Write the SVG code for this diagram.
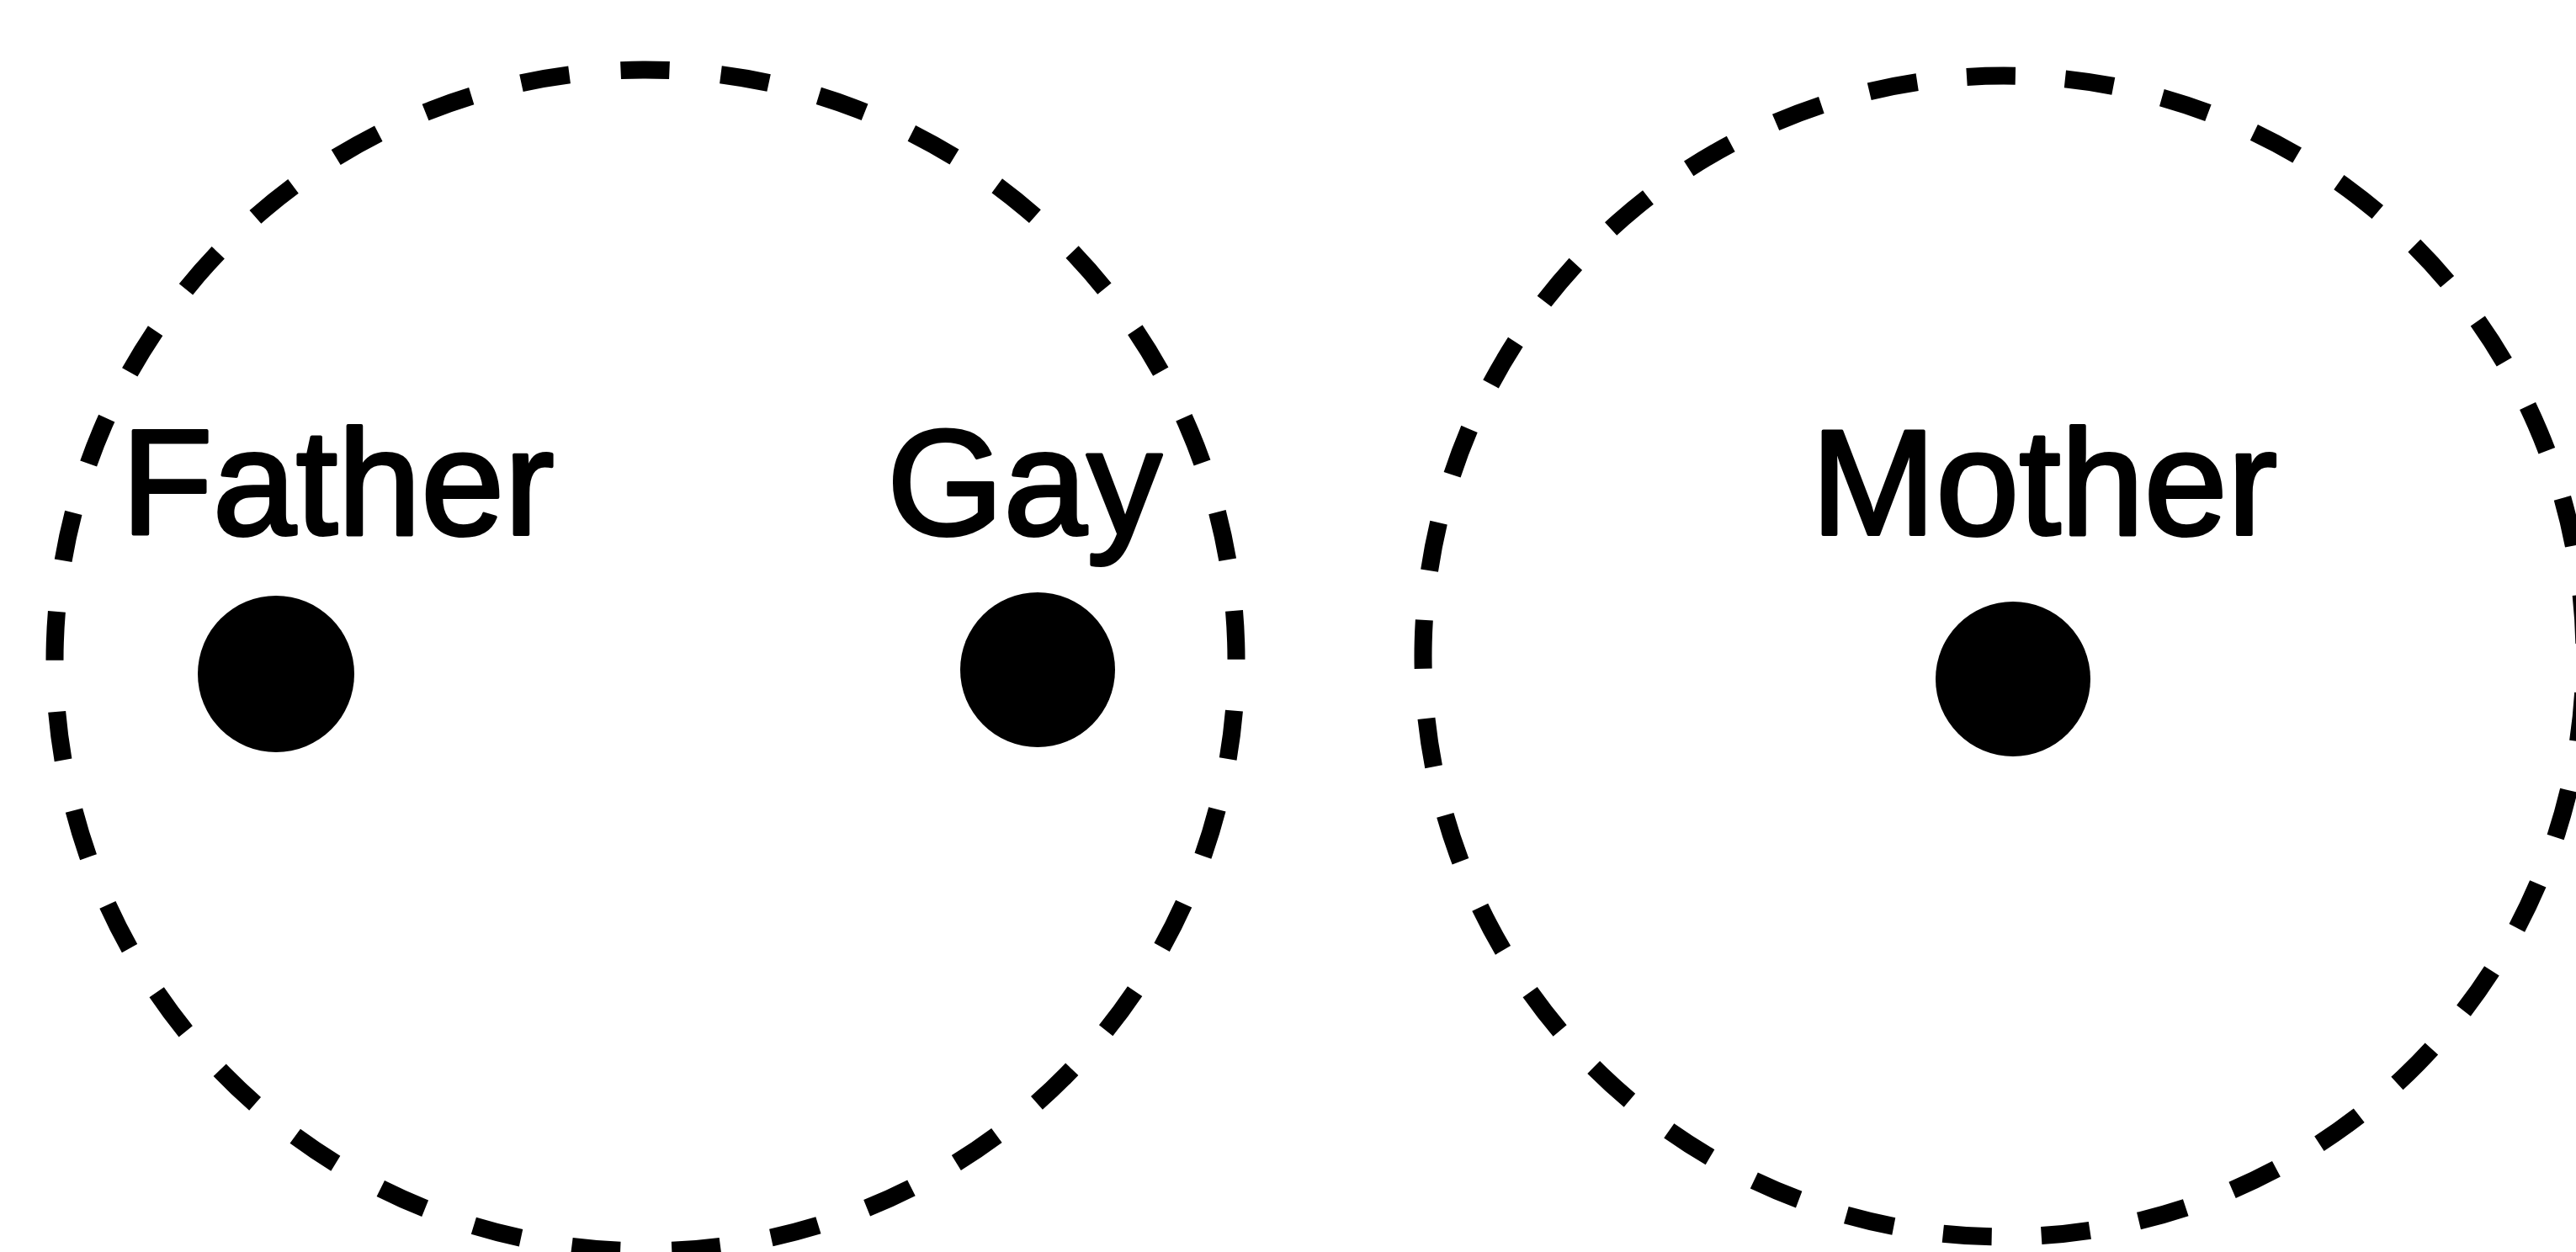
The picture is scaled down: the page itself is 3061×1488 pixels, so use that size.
<svg xmlns="http://www.w3.org/2000/svg" width="3061" height="1488" viewBox="0 0 3061 1488">
<style>
.ring{fill:none;stroke:#000;stroke-width:21;stroke-linecap:butt}
.lbl{font-family:"Liberation Sans",Arial,Helvetica,sans-serif;font-size:178px;fill:#000;stroke:#000;stroke-width:4;stroke-linejoin:round}
.dot{fill:#000}
</style>
<rect width="3061" height="1488" fill="#fff"/>
<g id="connectors"></g>
<g id="group-left">
<circle class="ring" cx="767" cy="785" r="702" stroke-dasharray="58 61.21" stroke-dashoffset="59.6"/>
</g>
<g id="group-right">
<circle class="ring" cx="2381" cy="780" r="690" stroke-dasharray="58 59.17" stroke-dashoffset="73.6"/>
</g>
<g id="node-father">
<text class="lbl" x="144" y="635">Father</text>
<circle class="dot" cx="328" cy="801" r="93"/>
</g>
<g id="node-gay">
<text class="lbl" x="1054" y="635">Gay</text>
<circle class="dot" cx="1233" cy="796" r="92"/>
</g>
<g id="node-mother">
<text class="lbl" x="2152" y="635">Mother</text>
<circle class="dot" cx="2392" cy="807" r="92"/>
</g>
</svg>
